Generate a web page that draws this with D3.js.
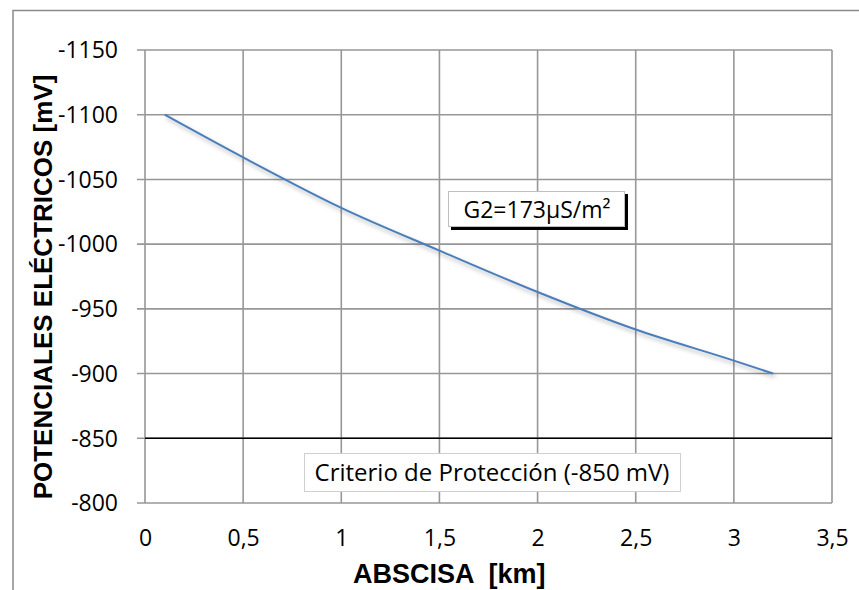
<!DOCTYPE html>
<html><head><meta charset="utf-8">
<script src="https://cdn.jsdelivr.net/npm/d3@7"></script>
<style>body{margin:0;background:#fff}svg{display:block}</style>
</head><body>
<svg id="c" width="859" height="590"></svg>
<script>
const abscisa = [0.1, 0.5, 1.0, 1.5, 2.0, 2.5, 3.0, 3.2];
const potencial = [-1100, -1067, -1028, -995, -963, -934, -910, -900];
const criterio = -850;
const xTicks = [0, 0.5, 1, 1.5, 2, 2.5, 3, 3.5];
const yTicks = [-1150, -1100, -1050, -1000, -950, -900, -850, -800];
const seriesLabel = "G2=173µS/m²";
const criterioLabel = "Criterio de Protección (-850 mV)";
const xTitle = "ABSCISA  [km]";
const yTitle = "POTENCIALES ELÉCTRICOS [mV]";

const svg = d3.select("#c");
const L = 145, R = 832, T = 50, B = 503;
const x = d3.scaleLinear().domain([0, 3.5]).range([L, R]);
const y = d3.scaleLinear().domain([-1150, -800]).range([T, B]);
const fmt = d => String(d).replace(".", ",");

const defs = svg.append("defs");
const f = defs.append("filter").attr("id","sh").attr("x","-10%").attr("y","-10%").attr("width","130%").attr("height","150%");
f.append("feDropShadow").attr("dx",2).attr("dy",3).attr("stdDeviation",2.2).attr("flood-color","#000").attr("flood-opacity",0.3);

// outer frame
svg.append("rect").attr("x",13).attr("y",10.5).attr("width",900).attr("height",700)
  .attr("fill","none").attr("stroke","#8a8a8a").attr("stroke-width",1.5);

// grid
const grid = svg.append("g").attr("stroke","#979797").attr("stroke-width",1.6);
grid.selectAll("line.v").data(xTicks).join("line")
  .attr("x1",d=>x(d)).attr("x2",d=>x(d)).attr("y1",T).attr("y2",B);
grid.selectAll("line.h").data(yTicks).join("line")
  .attr("x1",L-8).attr("x2",R).attr("y1",d=>y(d)).attr("y2",d=>y(d));

// y axis labels
const yAxis = d3.axisLeft(y).tickValues(yTicks).tickSize(0).tickPadding(0).tickFormat(d=>d);
const gy = svg.append("g").attr("transform",`translate(${L-27},0)`).call(yAxis);
gy.select(".domain").remove();
gy.selectAll("text").attr("font-family","Open Sans").attr("font-size",23).attr("fill","#000").attr("dy","0.34em");

const xAxis = d3.axisBottom(x).tickValues(xTicks).tickSize(0).tickPadding(0).tickFormat(fmt);
const gx = svg.append("g").attr("transform",`translate(0,${B+35})`).call(xAxis);
gx.select(".domain").remove();
gx.selectAll("text").attr("font-family","Open Sans").attr("font-size",23).attr("fill","#000").attr("dy","0.36em");

// criterio line
svg.append("line").attr("x1",x(0)).attr("x2",x(3.5)).attr("y1",y(criterio)).attr("y2",y(criterio))
  .attr("stroke","#000").attr("stroke-width",1.6);

// series
const pts = abscisa.map((d,i)=>[d,potencial[i]]);
svg.append("path").datum(pts)
  .attr("d", d3.line().x(d=>x(d[0])).y(d=>y(d[1])).curve(d3.curveMonotoneX))
  .attr("fill","none").attr("stroke","#4a7ebb").attr("stroke-width",2).attr("filter","url(#sh)");

// G2 label
svg.append("rect").attr("x",451).attr("y",194).attr("width",177).attr("height",36).attr("fill","#000");
svg.append("rect").attr("x",448.5).attr("y",191.5).attr("width",176).attr("height",35)
  .attr("fill","#fff").attr("stroke","#bfbfbf").attr("stroke-width",1);
svg.append("text").attr("x",537).attr("y",218).attr("text-anchor","middle")
  .attr("font-family","Open Sans").attr("font-size",23).attr("fill","#000").text(seriesLabel);

// criterio label
svg.append("rect").attr("x",304.5).attr("y",453.5).attr("width",376).attr("height",38)
  .attr("fill","#fff").attr("stroke","#d0d0d0").attr("stroke-width",1);
svg.append("text").attr("x",492).attr("y",481).attr("text-anchor","middle")
  .attr("font-family","Open Sans").attr("font-size",24).attr("fill","#000").text(criterioLabel);

// titles
svg.append("text").attr("x",353).attr("y",583).attr("text-anchor","start")
  .attr("font-family","Liberation Sans, Arial").attr("font-weight","bold").attr("font-size",27)
  .attr("xml:space","preserve").style("white-space","pre").text(xTitle);
svg.append("text").attr("transform","translate(52,287) rotate(-90)").attr("text-anchor","middle")
  .attr("font-family","Liberation Sans, Arial").attr("font-weight","bold").attr("font-size",26).text(yTitle);
</script>
</body></html>
